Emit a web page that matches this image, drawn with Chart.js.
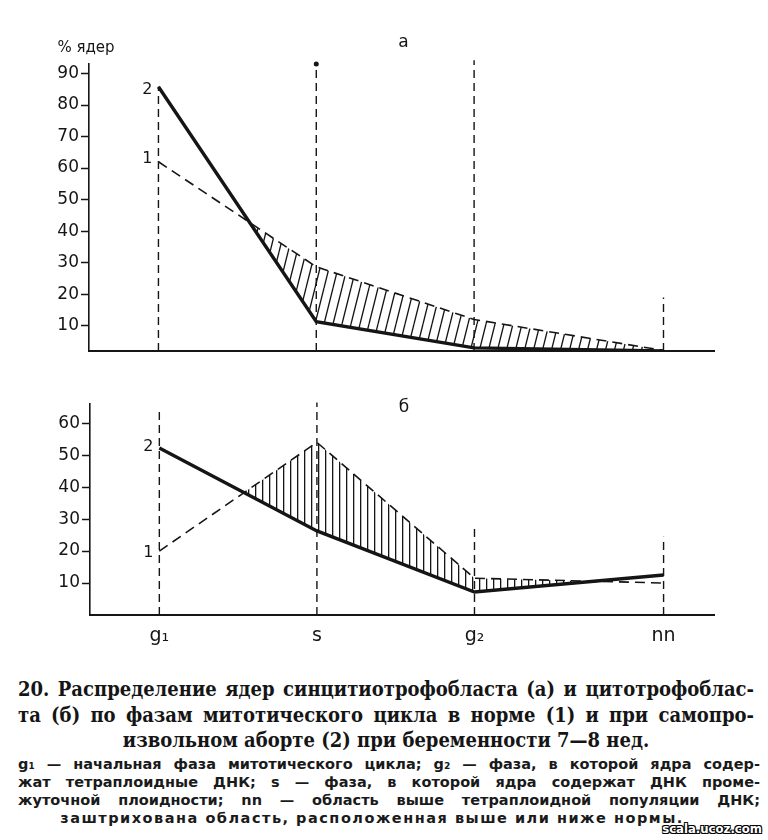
<!DOCTYPE html>
<html lang="ru">
<head>
  <meta charset="UTF-8">
  <title>Распределение ядер по фазам митотического цикла</title>
  <script src="https://cdn.jsdelivr.net/npm/chart.js"></script>
  <style>
    * { margin: 0; padding: 0; box-sizing: border-box; }
    body {
      width: 768px;
      height: 840px;
      background: #fff;
      color: #151515;
      position: relative;
      overflow: hidden;
    }
    #chartA { position: absolute; left: 0; top: 0; }
    #chartB { position: absolute; left: 0; top: 390px; }

    /* Caption under the figure */
    .caption {
      position: absolute;
      left: 18px;
      width: 736px;
      top: 677px;
      font-family: "DejaVu Serif Condensed", "DejaVu Serif", serif;
      font-stretch: condensed;
      font-weight: bold;
      font-size: 20px;
      line-height: 25.5px;
      color: #151515;
    }
    .caption div { text-align: justify; text-align-last: justify; }
    .caption div.last { text-align: center; text-align-last: center; }

    .notes {
      position: absolute;
      left: 18px;
      width: 742px;
      top: 755px;
      font-family: "DejaVu Sans", sans-serif;
      font-weight: bold;
      font-size: 14.5px;
      line-height: 18px;
      color: #1a1a1a;
    }
    .notes div { text-align: justify; text-align-last: justify; }
    .notes div.last {
      text-align: center;
      text-align-last: center;
      letter-spacing: 1.5px;
      padding-right: 34px;
    }

    .stamp {
      position: absolute;
      right: 6px;
      top: 822px;
      font-family: "DejaVu Sans Condensed", "DejaVu Sans", sans-serif;
      font-weight: bold;
      font-size: 13px;
      line-height: 14px;
      color: #fff;
      text-shadow: -1px -1px 0 #000, 1px -1px 0 #000, -1px 1px 0 #000, 1px 1px 0 #000;
    }
  </style>
</head>
<body>
  <canvas id="chartA" width="768" height="370"></canvas>
  <canvas id="chartB" width="768" height="260"></canvas>

  <div class="caption">
    <div>20. Распределение ядер синцитиотрофобласта (а) и цитотрофоблас-</div>
    <div>та (б) по фазам митотического цикла в норме (1) и при самопро-</div>
    <div class="last">извольном аборте (2) при беременности 7—8 нед.</div>
  </div>
  <div class="notes">
    <div>g₁ — начальная фаза митотического цикла; g₂ — фаза, в которой ядра содер-</div>
    <div>жат тетраплоидные ДНК; s — фаза, в которой ядра содержат ДНК проме-</div>
    <div>жуточной плоидности; nn — область выше тетраплоидной популяции ДНК;</div>
    <div class="last">заштрихована область, расположенная выше или ниже нормы.</div>
  </div>
  <div class="stamp">scala.ucoz.com</div>

  <script>
    // phases of the mitotic cycle and where they sit on the x axis
    const phases = ['g₁', 's', 'g₂', 'nn'];
    const phaseX = [1, 2, 3, 4.2];

    // а — синцитиотрофобласт, % ядер
    const normA = [62, 28.7, 12, 2.2];       // 1 — норма
    const abortA = [85.8, 11.3, 3, 2];       // 2 — самопроизвольный аборт
    const guideTopA = [85.8, 93, 94.2, 19];  // top of the dashed phase lines
    const yTicksA = [10, 20, 30, 40, 50, 60, 70, 80, 90];

    // б — цитотрофобласт, % ядер
    const normB = [20, 54, 11.5, 10];
    const abortB = [52.2, 26.3, 7.2, 12.5];
    const guideTopB = [64, 66.5, 27.5, 24.5];
    const yTicksB = [10, 20, 30, 40, 50, 60];

    const ink = '#151515';
    const tickFont = { family: '"DejaVu Sans", sans-serif', size: 17 };

    // hatch patterns for the area where the norm lies above the abortion curve
    function slantHatch() {
      const w = 9, h = 36;
      const c = document.createElement('canvas');
      c.width = w; c.height = h;
      const g = c.getContext('2d');
      g.strokeStyle = ink;
      g.lineWidth = 1.3;
      for (const dx of [-w, 0, w]) {
        g.beginPath();
        g.moveTo(dx, h);
        g.lineTo(dx + w, 0);
        g.stroke();
      }
      return g.createPattern(c, 'repeat');
    }
    function verticalHatch() {
      const c = document.createElement('canvas');
      c.width = 7; c.height = 4;
      const g = c.getContext('2d');
      g.fillStyle = ink;
      g.fillRect(3, 0, 1.3, 4);
      return g.createPattern(c, 'repeat');
    }

    // vertical dashed lines for every phase, broken by null points
    function guidePoints(tops, yMin) {
      const pts = [];
      phaseX.forEach((x, i) => {
        pts.push({ x: x, y: yMin }, { x: x, y: tops[i] }, { x: x, y: null });
      });
      return pts;
    }

    // letters, axis name and series numbers
    const notes = {
      id: 'notes',
      afterDraw(chart, args, opts) {
        const { ctx, chartArea, scales: { x, y } } = chart;
        ctx.save();
        ctx.fillStyle = ink;
        ctx.textBaseline = 'middle';
        ctx.font = '17px "DejaVu Sans", sans-serif';
        ctx.textAlign = 'center';
        ctx.fillText(opts.letter, (chartArea.left + chartArea.right) / 2 + 2, chartArea.top + opts.letterDy);
        if (opts.unit) {
          ctx.font = '15px "DejaVu Sans", sans-serif';
          ctx.fillText(opts.unit, chartArea.left - 3, chartArea.top - 16);
        }
        ctx.font = '16px "DejaVu Sans", sans-serif';
        ctx.textAlign = 'right';
        const gx = x.getPixelForValue(phaseX[0]) - 6;
        ctx.fillText('2', gx, y.getPixelForValue(opts.abort[0]) + opts.dy2);
        ctx.fillText('1', gx, y.getPixelForValue(opts.norm[0]) + opts.dy1);
        ctx.restore();
      }
    };

    function makeChart(id, cfg) {
      const datasets = [
        {
          label: '2',
          data: phaseX.map((x, i) => ({ x: x, y: cfg.abort[i] })),
          borderColor: ink,
          borderWidth: 3.4,
          pointRadius: 0,
          fill: false
        },
        {
          label: '1',
          data: phaseX.map((x, i) => ({ x: x, y: cfg.norm[i] })),
          borderColor: ink,
          borderWidth: 1.6,
          borderDash: [10, 6],
          pointRadius: 0,
          fill: { target: 0, above: cfg.hatch, below: 'rgba(0,0,0,0)' }
        },
        {
          label: 'phases',
          data: guidePoints(cfg.guideTop, cfg.yMin),
          borderColor: ink,
          borderWidth: 1.4,
          borderDash: [8, 5],
          pointRadius: 0,
          spanGaps: false,
          clip: false,
          fill: false
        }
      ];
      if (cfg.dot) {
        datasets.push({
          label: 'dot',
          data: [{ x: phaseX[1], y: cfg.guideTop[1] }],
          pointRadius: 2.5,
          pointBackgroundColor: ink,
          pointBorderWidth: 0,
          showLine: false,
          clip: false
        });
      }

      return new Chart(document.getElementById(id), {
        type: 'line',
        data: { datasets: datasets },
        plugins: [notes],
        options: {
          responsive: false,
          animation: false,
          layout: { padding: { top: cfg.padTop, right: 54, bottom: cfg.padBottom, left: 0 } },
          elements: { line: { tension: 0 } },
          plugins: {
            legend: { display: false },
            tooltip: { enabled: false },
            notes: {
              letter: cfg.letter,
              letterDy: cfg.letterDy,
              unit: cfg.unit,
              abort: cfg.abort,
              norm: cfg.norm,
              dy1: cfg.dy1,
              dy2: cfg.dy2
            }
          },
          scales: {
            x: {
              type: 'linear',
              min: 0.56,
              max: 4.52,
              grid: { display: false },
              border: { display: true, color: ink, width: 2 },
              afterBuildTicks: (axis) => { axis.ticks = phaseX.map(v => ({ value: v })); },
              ticks: {
                display: cfg.showPhases,
                autoSkip: false,
                maxRotation: 0,
                padding: 2,
                color: ink,
                font: { family: '"DejaVu Sans", sans-serif', size: 19 },
                callback: (v, i) => phases[i]
              },
              afterFit: (s) => { s.height = cfg.xHeight; }
            },
            y: {
              type: 'linear',
              min: cfg.yMin,
              max: cfg.yMax,
              afterBuildTicks: (axis) => { axis.ticks = cfg.yTicks.map(v => ({ value: v })); },
              grid: {
                display: true,
                drawOnChartArea: false,
                drawTicks: true,
                tickLength: 8,
                tickColor: ink,
                tickWidth: 1.5
              },
              border: { display: true, color: ink, width: 1.6 },
              ticks: { color: ink, font: tickFont, padding: 2 },
              afterFit: (s) => { s.width = cfg.yWidth; }
            }
          }
        }
      });
    }

    makeChart('chartA', {
      abort: abortA, norm: normA, guideTop: guideTopA, yTicks: yTicksA,
      yMin: 2, yMax: 93, yWidth: 89, padTop: 64, padBottom: 19, xHeight: 0,
      showPhases: false, hatch: slantHatch(), dot: true,
      letter: 'а', letterDy: -21, unit: '% ядер', dy1: -3, dy2: 3
    });

    makeChart('chartB', {
      abort: abortB, norm: normB, guideTop: guideTopB, yTicks: yTicksB,
      yMin: 0, yMax: 66, yWidth: 90, padTop: 14, padBottom: 0, xHeight: 35,
      showPhases: true, hatch: verticalHatch(), dot: false,
      letter: 'б', letterDy: 4, unit: null, dy1: 2, dy2: -1
    });
  </script>
</body>
</html>
